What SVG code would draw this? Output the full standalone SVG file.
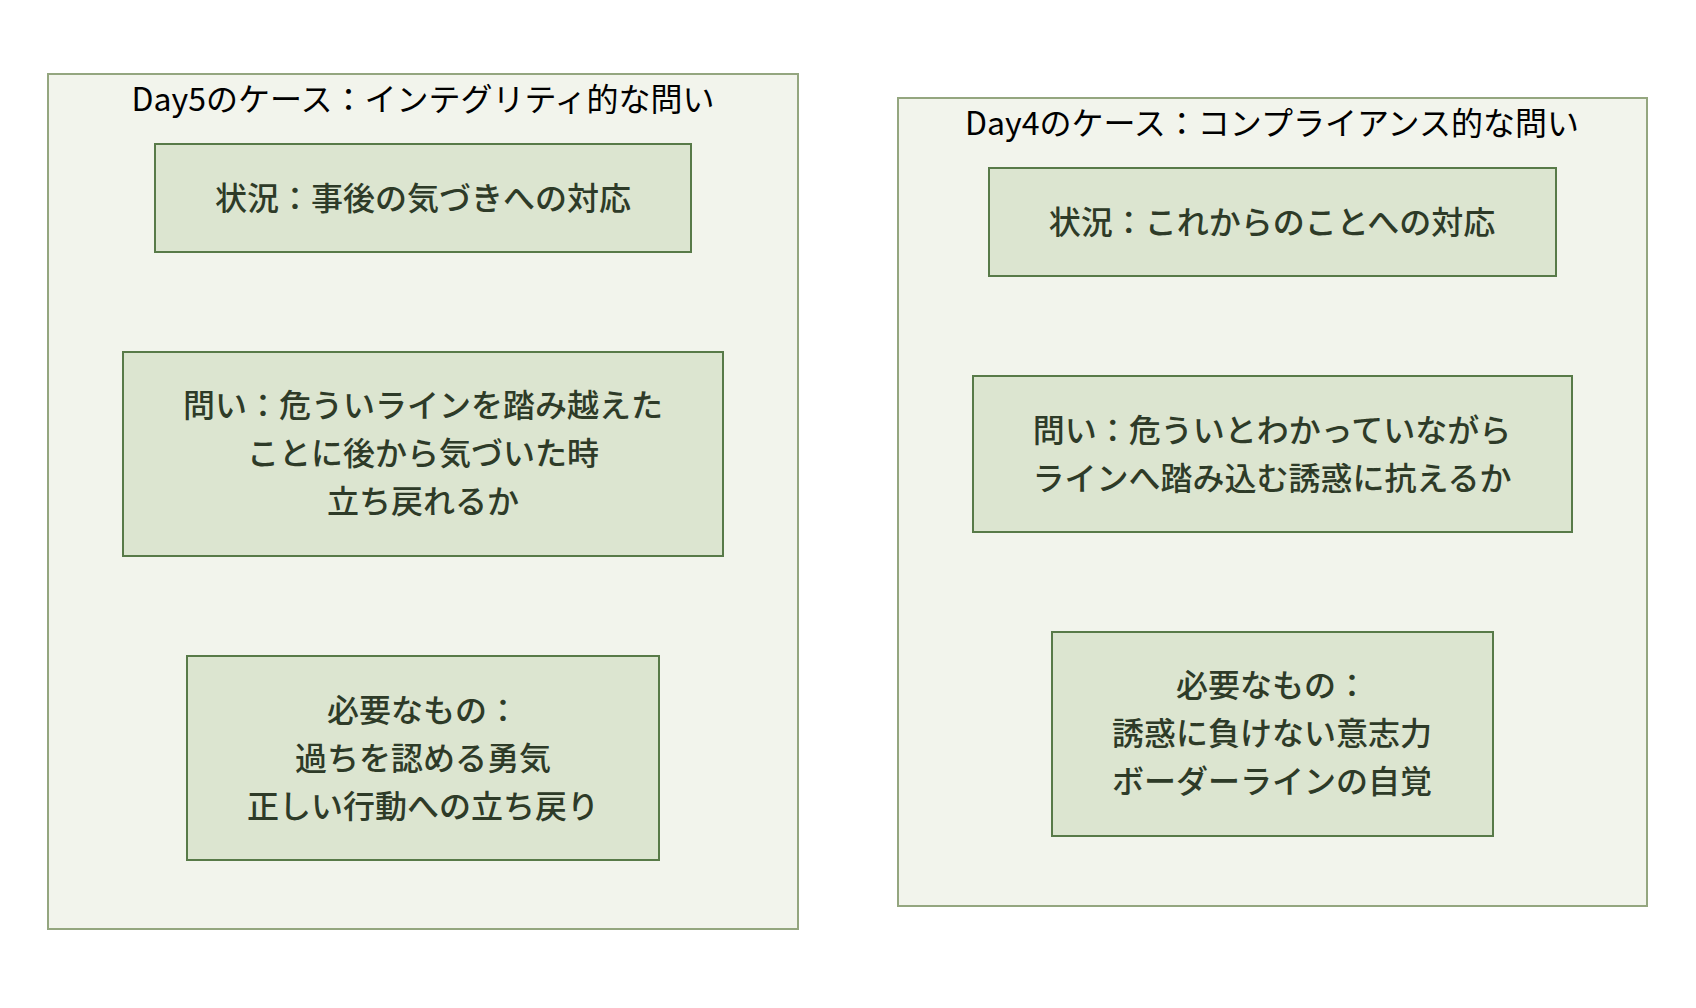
<svg xmlns="http://www.w3.org/2000/svg" width="1696" height="1008" viewBox="0 0 1696 1008">
<style>
.outer{fill:#f2f4ec;stroke:#94a67f;stroke-width:2}
.inner{fill:#dce5d0;stroke:#587a48;stroke-width:2}
.title{font-family:"Noto Sans CJK JP","Liberation Sans",sans-serif;font-size:32px;fill:#000;text-anchor:middle}
.txt{font-family:"Noto Sans CJK JP","Liberation Sans",sans-serif;font-size:32px;font-weight:500;fill:#2e3b28;text-anchor:middle}
</style>
<rect width="1696" height="1008" fill="#ffffff"/>
<g id="day5">
<rect class="outer" x="48" y="74" width="750" height="855"/>
<text class="title" x="423" y="111">Day5のケース：インテグリティ的な問い</text>
</g>
<g id="day5-situation">
<rect class="inner" x="155" y="144" width="536" height="108"/>
<text class="txt" x="423" y="210">状況：事後の気づきへの対応</text>
</g>
<g id="day5-question">
<rect class="inner" x="123" y="352" width="600" height="204"/>
<text class="txt" x="423" y="417">問い：危ういラインを踏み越えた</text>
<text class="txt" x="423" y="465">ことに後から気づいた時</text>
<text class="txt" x="423" y="513">立ち戻れるか</text>
</g>
<g id="day5-need">
<rect class="inner" x="187" y="656" width="472" height="204"/>
<text class="txt" x="423" y="722">必要なもの：</text>
<text class="txt" x="423" y="770">過ちを認める勇気</text>
<text class="txt" x="423" y="818">正しい行動への立ち戻り</text>
</g>
<g id="day4">
<rect class="outer" x="898" y="98" width="749" height="808"/>
<text class="title" x="1272" y="135">Day4のケース：コンプライアンス的な問い</text>
</g>
<g id="day4-situation">
<rect class="inner" x="989" y="168" width="567" height="108"/>
<text class="txt" x="1272" y="234">状況：これからのことへの対応</text>
</g>
<g id="day4-question">
<rect class="inner" x="973" y="376" width="599" height="156"/>
<text class="txt" x="1272" y="442">問い：危ういとわかっていながら</text>
<text class="txt" x="1272" y="490">ラインへ踏み込む誘惑に抗えるか</text>
</g>
<g id="day4-need">
<rect class="inner" x="1052" y="632" width="441" height="204"/>
<text class="txt" x="1272" y="697">必要なもの：</text>
<text class="txt" x="1272" y="745">誘惑に負けない意志力</text>
<text class="txt" x="1272" y="793">ボーダーラインの自覚</text>
</g>
<g id="connectors"></g>
</svg>
